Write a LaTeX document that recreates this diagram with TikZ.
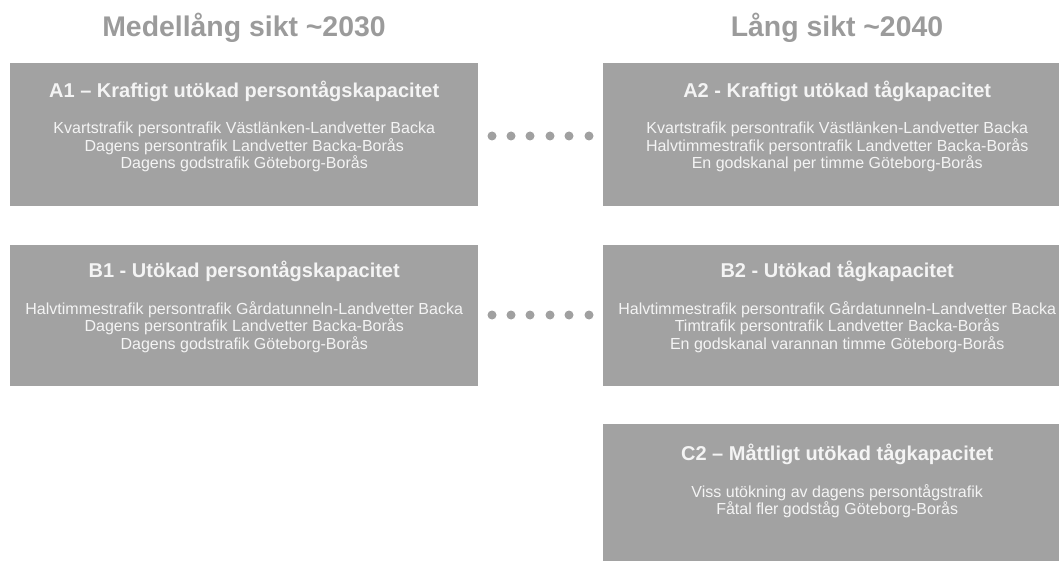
\documentclass[tikz,border=0pt]{standalone}
\usepackage{fontspec}
\setmainfont{Liberation Sans}
\usetikzlibrary{positioning}
\definecolor{boxgray}{HTML}{A2A2A2}
\definecolor{headgray}{HTML}{9B9B9B}
\definecolor{dotgray}{HTML}{A0A0A0}
\definecolor{textwhite}{HTML}{F4F4F4}

\begin{document}
\begin{tikzpicture} [x=1pt,y=-1pt,
		alt/.style={fill=boxgray,draw=none,minimum width=468pt,minimum height=143pt,anchor=north west,inner sep=0pt},
		alttitle/.style={text=textwhite,font=\fontsize{20}{24}\selectfont\bfseries,anchor=base,inner sep=0pt},
		altbody/.style={text=textwhite,font=\fontsize{16}{17.5}\selectfont,align=center,anchor=north,inner sep=0pt},
		period/.style={text=headgray,font=\fontsize{28.4}{34}\selectfont\bfseries,anchor=base,inner sep=0pt}]
		\path [use as bounding box,clip] (0,0) rectangle (1059,561);
		% time horizons
		\node [period] (mid) at (244,37) {Medellång sikt \textasciitilde2030};
		\node [period] (long) at (837,37) {Lång sikt \textasciitilde2040};
		% alternatives
		\node [alt] (a1) at (10,63) {};
		\node [alt] (a2) at (603,63) {};
		\node [alt,minimum height=141pt] (b1) at (10,245) {};
		\node [alt,minimum height=141pt] (b2) at (603,245) {};
		\node [alt] (c2) at (603,424) {};
		\node [alttitle] (a1t) at ([yshift=-35pt]a1.north) {A1 – Kraftigt utökad persontågskapacitet};
		\node [alttitle] (a2t) at ([yshift=-35pt]a2.north) {A2 - Kraftigt utökad tågkapacitet};
		\node [alttitle] (b1t) at ([yshift=-32pt]b1.north) {B1 - Utökad persontågskapacitet};
		\node [alttitle] (b2t) at ([yshift=-32pt]b2.north) {B2 - Utökad tågkapacitet};
		\node [alttitle] (c2t) at ([yshift=-36pt]c2.north) {C2 – Måttligt utökad tågkapacitet};
		\node [altbody] (a1b) at ([yshift=-59pt]a1.north) {Kvartstrafik persontrafik Västlänken-Landvetter Backa\\Dagens persontrafik Landvetter Backa-Borås\\Dagens godstrafik Göteborg-Borås};
		\node [altbody] (a2b) at ([yshift=-59pt]a2.north) {Kvartstrafik persontrafik Västlänken-Landvetter Backa\\Halvtimmestrafik persontrafik Landvetter Backa-Borås\\En godskanal per timme Göteborg-Borås};
		\node [altbody] (b1b) at ([yshift=-56pt]b1.north) {Halvtimmestrafik persontrafik Gårdatunneln-Landvetter Backa\\Dagens persontrafik Landvetter Backa-Borås\\Dagens godstrafik Göteborg-Borås};
		\node [altbody] (b2b) at ([yshift=-56pt]b2.north) {Halvtimmestrafik persontrafik Gårdatunneln-Landvetter Backa\\Timtrafik persontrafik Landvetter Backa-Borås\\En godskanal varannan timme Göteborg-Borås};
		\node [altbody] (c2b) at ([yshift=-60pt]c2.north) {Viss utökning av dagens persontågstrafik\\Fåtal fler godståg Göteborg-Borås};
		% dotted links
		\fill [dotgray] (492,136) circle (4.5pt);
		\fill [dotgray] (511,136) circle (4.5pt);
		\fill [dotgray] (530,136) circle (4.5pt);
		\fill [dotgray] (550,136) circle (4.5pt);
		\fill [dotgray] (569,136) circle (4.5pt);
		\fill [dotgray] (589,136) circle (4.5pt);
		\fill [dotgray] (492,315) circle (4.5pt);
		\fill [dotgray] (511,315) circle (4.5pt);
		\fill [dotgray] (530,315) circle (4.5pt);
		\fill [dotgray] (550,315) circle (4.5pt);
		\fill [dotgray] (569,315) circle (4.5pt);
		\fill [dotgray] (589,315) circle (4.5pt);
	\end{tikzpicture}
\end{document}
